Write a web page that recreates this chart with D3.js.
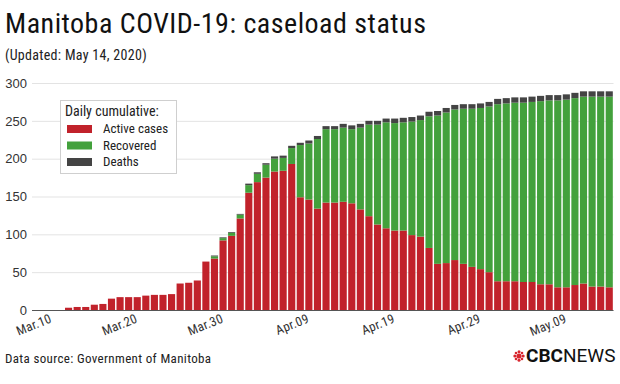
<!DOCTYPE html>
<html>
<head>
<meta charset="utf-8">
<script src="https://cdnjs.cloudflare.com/ajax/libs/d3/7.8.5/d3.min.js"></script>
<style>
  body { margin: 0; background: #fff; }
  svg { display: block; font-family: "Roboto Condensed", "Liberation Sans Narrow", "DejaVu Sans Condensed", Roboto, sans-serif; }
</style>
</head>
<body>
<script>
// days shown, Mar 8 .. May 14 2020
var firstDay = new Date(2020, 2, 8),
  lastDay = new Date(2020, 4, 15);

var tickLabels = ["Mar.10", "Mar.20", "Mar.30", "Apr.09", "Apr.19", "Apr.29", "May.09"];
var tickDays = [new Date(2020, 2, 10), new Date(2020, 2, 20), new Date(2020, 2, 30),
  new Date(2020, 3, 9), new Date(2020, 3, 19), new Date(2020, 3, 29), new Date(2020, 4, 9)];

var active = [0, 0, 0, 0, 3, 4, 4, 7, 8, 15, 17, 17, 17, 19, 20, 20, 21, 35, 36, 39, 64,
  68, 92, 98, 121, 155, 169, 175, 183, 184, 193, 149, 146, 134, 142, 142, 143, 141, 133,
  124, 113, 108, 105, 105, 99, 97, 82, 61, 62, 66, 61, 57, 54, 50, 38, 38, 38, 37, 37,
  34, 34, 30, 30, 33, 35, 31, 31, 30];
var recovered = [0, 0, 0, 0, 0, 0, 0, 0, 0, 0, 0, 0, 0, 0, 0, 0, 0, 0, 0, 0, 0,
  3, 3, 4, 5, 10, 11, 17, 17, 17, 21, 69, 74, 92, 97, 97, 98, 98, 108,
  121, 132, 140, 142, 143, 150, 154, 174, 196, 199, 199, 205, 209, 213, 219, 234, 235, 236, 237, 238,
  242, 243, 247, 248, 247, 247, 251, 251, 252];
var deaths = [0, 0, 0, 0, 0, 0, 0, 0, 0, 0, 0, 0, 0, 0, 0, 0, 0, 0, 0, 0, 0,
  1, 1, 1, 1, 2, 2, 2, 3, 3, 3, 3, 4, 4, 4, 4, 5, 5, 5,
  5, 5, 5, 6, 6, 6, 6, 6, 6, 6, 6, 6, 6, 6, 6, 7, 7, 7, 7, 7,
  7, 7, 7, 7, 7, 7, 7, 7, 7];

var keys = ["Active cases", "Recovered", "Deaths"];
var colors = ["#c1222b", "#43a13c", "#444444"];

var w = 620, h = 384;
var svg = d3.select("body").append("svg").attr("width", w).attr("height", h);

var days = d3.timeDay.range(firstDay, lastDay);
var rows = days.map(function(d, i) {
  return { day: d, "Active cases": active[i], "Recovered": recovered[i], "Deaths": deaths[i] };
});

var x = d3.scaleBand().domain(days).range([30, 613.5]).paddingInner(0.17).paddingOuter(0.08);
var y = d3.scaleLinear().domain([0, 300]).range([310, 83]);
var color = d3.scaleOrdinal().domain(keys).range(colors);

// title
svg.append("text").attr("x", 5).attr("y", 33).attr("font-size", 28).attr("fill", "#111")
  .attr("letter-spacing", 0.5)
  .text("Manitoba COVID-19: caseload status");
svg.append("text").attr("x", 5).attr("y", 60).attr("font-size", 14).attr("fill", "#222")
  .attr("letter-spacing", 0.3)
  .text("(Updated: May 14, 2020)");

// grid + y labels
var yAxis = svg.append("g").attr("transform", "translate(32,0)")
  .call(d3.axisLeft(y).tickValues([0, 50, 100, 150, 200, 250, 300]).tickSize(-(613.5 - 32)).tickPadding(5));
yAxis.select(".domain").remove();
yAxis.selectAll(".tick line").attr("stroke", "#e3e3e3");
yAxis.selectAll(".tick text").attr("font-size", 13).attr("fill", "#333").attr("font-family", null);

// bars
var stacked = d3.stack().keys(keys)(rows);
svg.append("g").selectAll("g").data(stacked).enter().append("g")
  .attr("fill", function(d) { return color(d.key); })
  .selectAll("rect").data(function(d) { return d; }).enter().append("rect")
  .attr("x", function(d) { return x(d.data.day); })
  .attr("width", x.bandwidth())
  .attr("y", function(d) { return y(d[1]); })
  .attr("height", function(d) { return y(d[0]) - y(d[1]); });

// x baseline
svg.append("line").attr("x1", 32).attr("x2", 613.5).attr("y1", 310.5).attr("y2", 310.5)
  .attr("stroke", "#555").attr("stroke-width", 1);

// x labels
svg.append("g").selectAll("text").data(tickDays).enter().append("text")
  .attr("transform", function(d) {
    return "translate(" + (x(d) + x.bandwidth() / 2 + 1) + ",322) rotate(-22)";
  })
  .attr("text-anchor", "end").attr("font-size", 13).attr("fill", "#333")
  .attr("letter-spacing", 0.2)
  .text(function(d, i) { return tickLabels[i]; });

// legend
var lg = svg.append("g").attr("transform", "translate(60,100)");
lg.append("rect").attr("x", 0.5).attr("y", 0.5).attr("width", 116).attr("height", 73)
  .attr("fill", "#fff").attr("stroke", "#cfcfcf");
lg.append("text").attr("x", 5).attr("y", 16).attr("font-size", 14).attr("fill", "#222")
  .text("Daily cumulative:");
var item = lg.selectAll(".item").data(keys).enter().append("g")
  .attr("transform", function(d, i) { return "translate(7," + (25 + i * 16.5) + ")"; });
item.append("rect").attr("width", 25).attr("height", 8).attr("fill", function(d) { return color(d); });
item.append("text").attr("x", 36).attr("y", 8).attr("font-size", 13).attr("fill", "#222")
  .text(function(d) { return d; });

// footer
svg.append("text").attr("x", 5).attr("y", 363).attr("font-size", 13).attr("fill", "#222")
  .attr("letter-spacing", 0.35)
  .text("Data source: Government of Manitoba");

var logo = svg.append("g").attr("transform", "translate(519,356)");
[[0, 0, 2.6], [-4.2, 0, 1.5], [4.2, 0, 1.5], [0, -4.2, 1.5], [0, 4.2, 1.5],
 [-3, -3, 1.3], [3, -3, 1.3], [-3, 3, 1.3], [3, 3, 1.3]].forEach(function(c) {
  logo.append("circle").attr("cx", c[0]).attr("cy", c[1]).attr("r", c[2]).attr("fill", "#d8262e");
});
var lt = svg.append("text").attr("x", 526).attr("y", 362).attr("font-size", 19).attr("fill", "#111")
  .attr("font-family", "Roboto, sans-serif");
lt.append("tspan").attr("font-weight", "bold").text("CBC");
lt.append("tspan").attr("font-weight", "normal").text("NEWS");
</script>
</body>
</html>
